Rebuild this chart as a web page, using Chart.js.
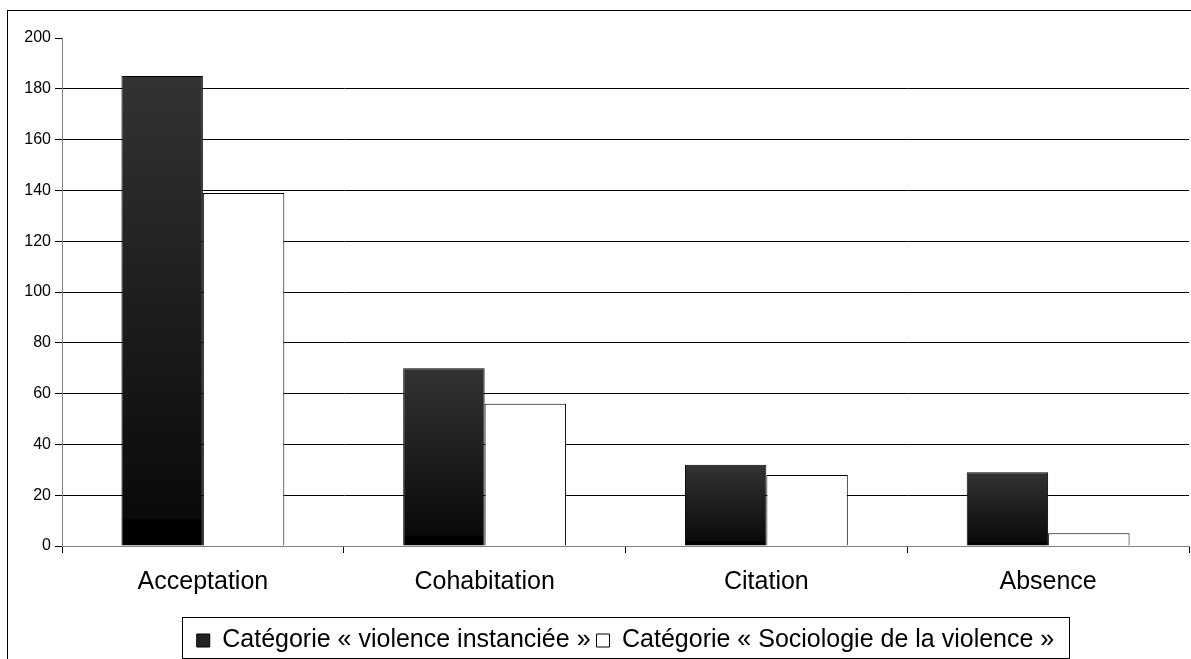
<!DOCTYPE html>
<html>
<head>
<meta charset="utf-8">
<script src="https://cdn.jsdelivr.net/npm/chart.js@4.4.1/dist/chart.umd.min.js"></script>
<style>
  body { margin: 0; background: #fff; }
  #wrap { width: 1191px; height: 659px; position: relative; }
</style>
</head>
<body>
<div id="wrap"><canvas id="graph"></canvas></div>
<script>
const categories = ['Acceptation', 'Cohabitation', 'Citation', 'Absence'];
const seriesNames = ['Catégorie « violence instanciée »', 'Catégorie « Sociologie de la violence »'];
const violenceInstanciee = [185, 70, 32, 29];
const sociologieViolence = [139, 56, 28, 5];
const yTicks = [0, 20, 40, 60, 80, 100, 120, 140, 160, 180, 200];

const FONT = "'Liberation Sans', Arial, sans-serif";

// dark bars: excel-like vertical gradient, grey top to black bottom
function darkFill(context) {
    const chart = context.chart;
    if (!chart.chartArea || context.type !== 'data') return '#222';
    const y = chart.scales.y;
    const top = y.getPixelForValue(context.raw);
    const bottom = y.getPixelForValue(0);
    const g = chart.ctx.createLinearGradient(0, top, 0, bottom);
    g.addColorStop(0, '#333333');
    g.addColorStop(0.94, '#0a0a0a');
    g.addColorStop(0.945, '#000000');
    g.addColorStop(1, '#000000');
    return g;
}

const frame = {
    id: 'frame',
    beforeDraw(chart) {
        const c = chart.ctx;
        c.save();
        c.fillStyle = '#fff';
        c.fillRect(0, 0, chart.width, chart.height);
        c.strokeStyle = '#000';
        c.lineWidth = 1;
        c.strokeRect(7.5, 10.5, 1300, 800);
        c.restore();
    },
    afterDraw(chart) {
        const boxes = chart.legend.legendHitBoxes;
        if (!boxes || !boxes.length) return;
        let l = Infinity, r = -Infinity, t = Infinity, b = -Infinity;
        boxes.forEach(h => {
            l = Math.min(l, h.left); r = Math.max(r, h.left + h.width);
            t = Math.min(t, h.top); b = Math.max(b, h.top + h.height);
        });
        const c = chart.ctx;
        c.save();
        c.strokeStyle = '#000';
        c.lineWidth = 1;
        c.strokeRect(Math.round(l - 15) + 0.5, Math.round(t - 11) + 0.5, Math.round(r - l + 29), Math.round(b - t + 16));
        c.restore();
    }
};

const data = {
    labels: categories,
    datasets: [{
        label: seriesNames[0],
        data: violenceInstanciee,
        backgroundColor: darkFill,
        borderColor: '#000',
        borderWidth: 1,
        categoryPercentage: 0.578,
        barPercentage: 1.0
    }, {
        label: seriesNames[1],
        data: sociologieViolence,
        backgroundColor: '#ffffff',
        borderColor: '#000',
        borderWidth: 1,
        categoryPercentage: 0.578,
        barPercentage: 1.0
    }]
};

const config = {
    type: 'bar',
    data: data,
    plugins: [frame],
    options: {
        responsive: true,
        maintainAspectRatio: false,
        animation: false,
        layout: { padding: { left: 0, top: 38, right: 2, bottom: -4 } },
        plugins: {
            tooltip: { enabled: false },
            legend: {
                position: 'bottom',
                fullSize: false, // centre legend under the plot area, not the canvas
                labels: {
                    color: '#000',
                    font: { family: FONT, size: 25 },
                    boxWidth: 13,
                    boxHeight: 13,
                    padding: 6,
                    generateLabels: (chart) => chart.data.datasets.map((ds, i) => ({
                        text: ds.label,
                        fillStyle: i === 0 ? '#222' : '#fff',
                        strokeStyle: '#000',
                        lineWidth: 1,
                        fontColor: '#000',
                        hidden: false,
                        datasetIndex: i
                    }))
                }
            }
        },
        scales: {
            x: {
                afterFit: (s) => { s.height = 76; },
                grid: {
                    offset: true,
                    drawOnChartArea: false,
                    drawTicks: true,
                    tickLength: 7,
                    tickColor: '#000'
                },
                border: { color: '#808080', width: 1 },
                ticks: {
                    color: '#000',
                    font: { family: FONT, size: 25 },
                    padding: 14
                }
            },
            y: {
                min: 0,
                max: 200,
                afterFit: (s) => { s.width = 62; },
                afterBuildTicks: (s) => { s.ticks = yTicks.map(v => ({ value: v })); },
                grid: {
                    color: (ctx) => (ctx.tick && ctx.tick.value === 200) ? 'rgba(0,0,0,0)' : '#000',
                    tickColor: '#000',
                    tickLength: 7,
                    lineWidth: 1
                },
                border: { color: '#808080', width: 1 },
                ticks: {
                    color: '#000',
                    font: { family: FONT, size: 16 },
                    padding: 4
                }
            }
        }
    }
};

const graph = document.querySelector('#graph');
new Chart(graph, config);
</script>
</body>
</html>
